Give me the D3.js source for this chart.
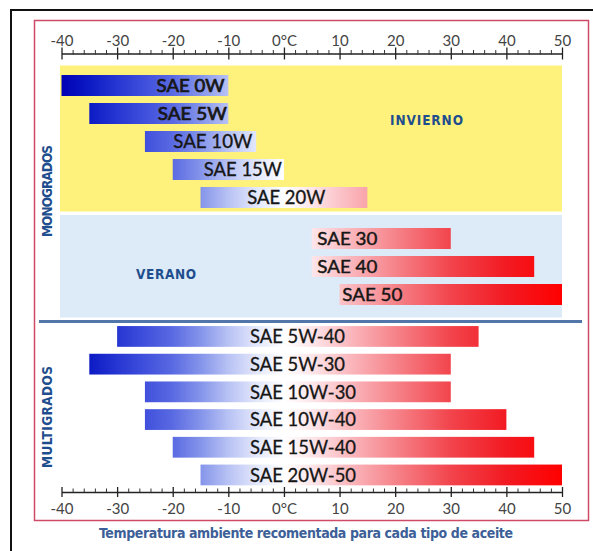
<!DOCTYPE html>
<html>
<head>
<meta charset="utf-8">
<script src="https://cdn.jsdelivr.net/npm/d3@7"></script>
<style>
  html, body { margin: 0; padding: 0; background: #ffffff; }
  svg { display: block; }
</style>
</head>
<body>
<script>
// ---------------- DATA ----------------
const winterNames = ["SAE 0W", "SAE 5W", "SAE 10W", "SAE 15W", "SAE 20W"];
const winterMin   = [-40, -35, -25, -20, -15];
const winterMax   = [-10, -10, -5, 0, 15];

const summerNames = ["SAE 30", "SAE 40", "SAE 50"];
const summerMin   = [5, 5, 10];
const summerMax   = [30, 45, 50];

const multiNames = ["SAE 5W-40", "SAE 5W-30", "SAE 10W-30", "SAE 10W-40", "SAE 15W-40", "SAE 20W-50"];
const multiMin   = [-30, -35, -25, -25, -20, -15];
const multiMax   = [35, 30, 30, 40, 45, 50];

const majorTicks = [-40, -30, -20, -10, 0, 10, 20, 30, 40, 50];
const tickLabels = ["-40", "-30", "-20", "-10", "0°C", "10", "20", "30", "40", "50"];

const groupTitles = ["MONOGRADOS", "MULTIGRADOS"];
const seasonTitles = ["INVIERNO", "VERANO"];
const footerText = "Temperatura ambiente recomentada para cada tipo de aceite";

// ---------------- LAYOUT ----------------
const W = 593, H = 551;
const svg = d3.select("body").append("svg").attr("width", W).attr("height", H);

const x = d3.scaleLinear().domain([-40, 50]).range([61.5, 562]);

const yWinter = d3.scaleBand().domain(winterNames).range([71.5, 211.5]).paddingInner(0.25).paddingOuter(0.125);
const ySummer = d3.scaleBand().domain(summerNames).range([224.5, 308.5]).paddingInner(0.25).paddingOuter(0.125);
const yMulti  = d3.scaleBand().domain(multiNames).range([322.6, 488.8]).paddingInner(0.25).paddingOuter(0.125);

// label placement (start temperature + rendered width), layout only
const winterLabelStart = [-22.9, -22.7, -19.9, -14.4, -6.6];
const winterLabelLen   = [68, 69, 79, 78, 78];
const winterLabelSize  = [17, 17, 19, 19, 19];
const winterLabelStroke = [0.7, 0.7, 0.35, 0.35, 0.35];
const summerLabelStart = [6, 6, 10.5];
const summerLabelLen   = [60, 60, 60];
const multiLabelStart  = -6.1;
const multiLabelLen    = [95, 95, 106, 106, 106, 106];

// temperature colour ramp
const tempStops = [
  [-40, "#0000b4"], [-35, "#0c1ac4"], [-30, "#2636d2"], [-25, "#4050dc"],
  [-20, "#5a6ae2"], [-15, "#8494ea"], [-10, "#b8c2f4"], [-5, "#e2e7fb"],
  [0, "#ffffff"], [5, "#fde6ea"], [10, "#fbc4c9"], [20, "#f6838a"],
  [30, "#f2444c"], [40, "#f21a22"], [50, "#ff0000"]
];
const defs = svg.append("defs");
const grad = defs.append("linearGradient").attr("id", "temp")
  .attr("gradientUnits", "userSpaceOnUse")
  .attr("x1", x(-40)).attr("x2", x(50)).attr("y1", 0).attr("y2", 0);
grad.selectAll("stop").data(tempStops).join("stop")
  .attr("offset", d => (d[0] + 40) / 90)
  .attr("stop-color", d => d[1]);

// frames
svg.append("rect").attr("x", 11).attr("y", 10).attr("width", 620).attr("height", 620)
  .attr("fill", "none").attr("stroke", "#111").attr("stroke-width", 2);
svg.append("rect").attr("x", 34.5).attr("y", 20.5).attr("width", 554).attr("height", 500)
  .attr("fill", "none").attr("stroke", "#cf4a66").attr("stroke-width", 1.5);

// panels
svg.append("rect").attr("x", 60).attr("y", 65.5).attr("width", x(50) - 60).attr("height", 146)
  .attr("fill", "#fff27c");
svg.append("rect").attr("x", 60).attr("y", 215).attr("width", x(50) - 60).attr("height", 102.5)
  .attr("fill", "#dcebf7");
svg.append("line").attr("x1", 39).attr("x2", 582).attr("y1", 321.5).attr("y2", 321.5)
  .attr("stroke", "#5276aa").attr("stroke-width", 3);

// axes
function drawAxis(y, top) {
  const major = (top ? d3.axisTop(x) : d3.axisBottom(x))
    .tickValues(majorTicks).tickSize(0).tickSizeOuter(0)
    .tickPadding(top ? 8 : 11)
    .tickFormat((d, i) => tickLabels[i]);
  const g = svg.append("g").attr("transform", `translate(0,${y})`).call(major);
  g.select(".domain").attr("stroke", "#222").attr("stroke-width", 1.3);
  g.selectAll(".tick line").attr("y1", top ? -6 : -5).attr("y2", top ? 6 : 5)
    .attr("stroke", "#222").attr("stroke-width", 1.3);
  g.selectAll(".tick text").attr("font-family", "Lato, 'Open Sans', sans-serif")
    .attr("font-size", 15).attr("fill", "#444");
  const minorVals = d3.range(-40, 51, 2).filter(v => majorTicks.indexOf(v) < 0);
  const minor = d3.axisTop(x).tickValues(minorVals).tickSize(0).tickFormat("");
  const gm = svg.append("g").attr("transform", `translate(0,${y})`).call(minor);
  gm.select(".domain").remove();
  gm.selectAll(".tick line").attr("y1", top ? 1 : 0).attr("y2", -3.5)
    .attr("stroke", "#333").attr("stroke-width", 1);
}
drawAxis(53.5, true);
drawAxis(492, false);

// bars
const labelFont = "Lato, 'Open Sans', sans-serif";
function drawGroup(names, mins, maxs, yScale, labelX, labelLen, labelSize, labelStroke) {
  const g = svg.append("g");
  g.selectAll("rect").data(names).join("rect")
    .attr("x", (d, i) => x(mins[i]))
    .attr("width", (d, i) => x(maxs[i]) - x(mins[i]))
    .attr("y", d => yScale(d))
    .attr("height", yScale.bandwidth())
    .attr("fill", "url(#temp)");
  g.selectAll("text").data(names).join("text")
    .attr("x", (d, i) => x(labelX(i)))
    .attr("y", d => yScale(d) + yScale.bandwidth() / 2)
    .attr("dy", "0.36em")
    .attr("font-family", labelFont)
    .attr("font-size", (d, i) => labelSize(i))
    .attr("textLength", (d, i) => labelLen[i])
    .attr("lengthAdjust", "spacingAndGlyphs")
    .attr("fill", "#161616")
    .attr("stroke", "#161616")
    .attr("stroke-width", (d, i) => labelStroke(i))
    .text(d => d);
}
drawGroup(winterNames, winterMin, winterMax, yWinter, i => winterLabelStart[i], winterLabelLen, i => winterLabelSize[i], i => winterLabelStroke[i]);
drawGroup(summerNames, summerMin, summerMax, ySummer, i => summerLabelStart[i], summerLabelLen, () => 18, () => 0.45);
drawGroup(multiNames, multiMin, multiMax, yMulti, () => multiLabelStart, multiLabelLen, () => 19, () => 0.3);

// titles
const titleFont = "'Liberation Sans Narrow', 'DejaVu Sans Condensed', 'DejaVu Sans', sans-serif";
const titleColor = "#1f4e8e";
function title(txt, tx, ty, rot, len) {
  svg.append("text")
    .attr("transform", `translate(${tx},${ty}) rotate(${rot})`)
    .attr("text-anchor", "middle")
    .attr("font-family", titleFont).attr("font-weight", "bold").attr("font-size", 13.5)
    .attr("textLength", len).attr("lengthAdjust", "spacing")
    .attr("fill", titleColor).text(txt);
}
title(seasonTitles[0], 426.5, 125, 0, 73);
title(seasonTitles[1], 166, 278.5, 0, 60);
title(groupTitles[0], 52, 191, -90, 92);
title(groupTitles[1], 52, 417, -90, 102);

// footer
svg.append("text").attr("x", 306).attr("y", 538).attr("text-anchor", "middle")
  .attr("font-family", titleFont).attr("font-weight", "bold").attr("font-size", 14)
  .attr("textLength", 414).attr("lengthAdjust", "spacing")
  .attr("fill", "#3d5f98").text(footerText);
</script>
</body>
</html>
